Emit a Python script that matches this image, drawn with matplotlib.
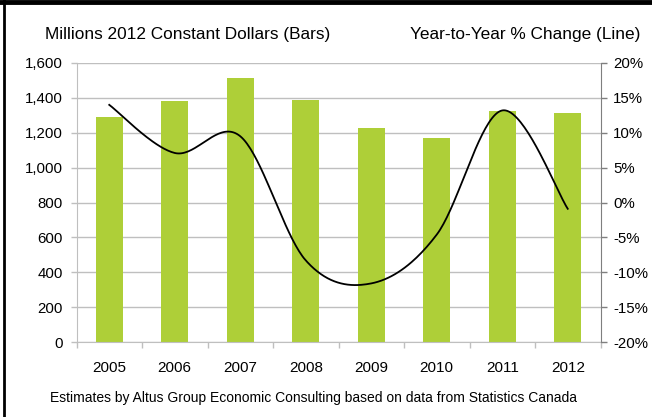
import numpy as np
import matplotlib
matplotlib.use('Agg')
import matplotlib.pyplot as plt
from matplotlib.ticker import FuncFormatter, FixedLocator

plt.rcParams['font.family'] = ['Liberation Sans', 'DejaVu Sans']

years = ['2005', '2006', '2007', '2008', '2009', '2010', '2011', '2012']
spending = [1292, 1384, 1516, 1390, 1229, 1172, 1327, 1315]   # millions 2012 $
pct_change = [14.0, 7.1, 9.5, -8.3, -11.6, -4.6, 13.2, -0.9]   # year-to-year %

bar_color = '#AECF38'
grid_color = '#BFBFBF'


def smooth(xs, ys, n=40):
    # excel-style smoothed line: cubic bezier, control pts from neighbours / 6
    xs = np.asarray(xs, float)
    ys = np.asarray(ys, float)
    px = np.concatenate([[xs[0]], xs, [xs[-1]]])
    py = np.concatenate([[ys[0]], ys, [ys[-1]]])
    outx, outy = [], []
    t = np.linspace(0, 1, n)
    for i in range(1, len(px) - 2):
        p0 = np.array([px[i], py[i]])
        p3 = np.array([px[i + 1], py[i + 1]])
        c1 = p0 + (np.array([px[i + 1], py[i + 1]]) - np.array([px[i - 1], py[i - 1]])) / 6
        c2 = p3 - (np.array([px[i + 2], py[i + 2]]) - np.array([px[i], py[i]])) / 6
        b = ((1 - t) ** 3)[:, None] * p0 + (3 * (1 - t) ** 2 * t)[:, None] * c1 \
            + (3 * (1 - t) * t ** 2)[:, None] * c2 + (t ** 3)[:, None] * p3
        outx.extend(b[:, 0])
        outy.extend(b[:, 1])
    return np.array(outx), np.array(outy)


fig = plt.figure(figsize=(6.52, 4.17), dpi=100)
ax = fig.add_axes([76.5 / 652, 1 - 342 / 417, 524 / 652, 279 / 417])

ind = np.arange(len(years))
ax.bar(ind, spending, width=0.41, color=bar_color, zorder=2)
ax.set_xlim(-0.5, len(years) - 0.5)
ax.set_ylim(0, 1600)
ax.set_yticks(np.arange(0, 1601, 200))
ax.yaxis.set_major_formatter(FuncFormatter(lambda v, p: '{:,.0f}'.format(v)))
ax.grid(axis='y', color=grid_color, linewidth=1, zorder=0)
ax.set_xticks(ind)
ax.set_xticklabels(years)
ax.xaxis.set_minor_locator(FixedLocator(np.arange(-0.5, len(years), 1)))
ax.tick_params(axis='x', which='major', length=0, pad=14, labelsize=11)
ax.tick_params(axis='x', which='minor', length=4, color=grid_color, width=1)
ax.tick_params(axis='y', length=4, color=grid_color, width=1, pad=6, labelsize=10.8)
for s in ['top', 'right']:
    ax.spines[s].set_visible(False)
ax.spines['left'].set_color(grid_color)
ax.spines['bottom'].set_color(grid_color)

ax2 = ax.twinx()
sx, sy = smooth(ind, pct_change)
ax2.plot(sx, sy, color='black', linewidth=1.3, zorder=3)
ax2.set_ylim(-20, 20)
ax2.set_yticks(np.arange(-20, 21, 5))
ax2.yaxis.set_major_formatter(FuncFormatter(lambda v, p: '{:.0f}%'.format(v)))
ax2.tick_params(axis='y', length=4, color='#7F7F7F', width=1, pad=5, labelsize=10.8)
for s in ['top', 'left', 'bottom']:
    ax2.spines[s].set_visible(False)
ax2.spines['right'].set_color('#7F7F7F')
ax2.set_xlim(-0.5, len(years) - 0.5)

fig.text(45 / 652, 1 - 35 / 417, 'Millions 2012 Constant Dollars (Bars)',
         fontsize=12.4, ha='left', va='center')
fig.text(640 / 652, 1 - 35 / 417, 'Year-to-Year % Change (Line)',
         fontsize=12.4, ha='right', va='center')
fig.text(313 / 652, 1 - 398 / 417,
         'Estimates by Altus Group Economic Consulting based on data from Statistics Canada',
         fontsize=10, ha='center', va='center')

# black frame on top and left
fig.add_artist(plt.Line2D([0, 1], [1 - 2 / 417, 1 - 2 / 417], color='black', linewidth=3.5,
                          transform=fig.transFigure))
fig.add_artist(plt.Line2D([4 / 652, 4 / 652], [0, 1], color='black', linewidth=2,
                          transform=fig.transFigure))

fig.savefig('out.png', dpi=100)
